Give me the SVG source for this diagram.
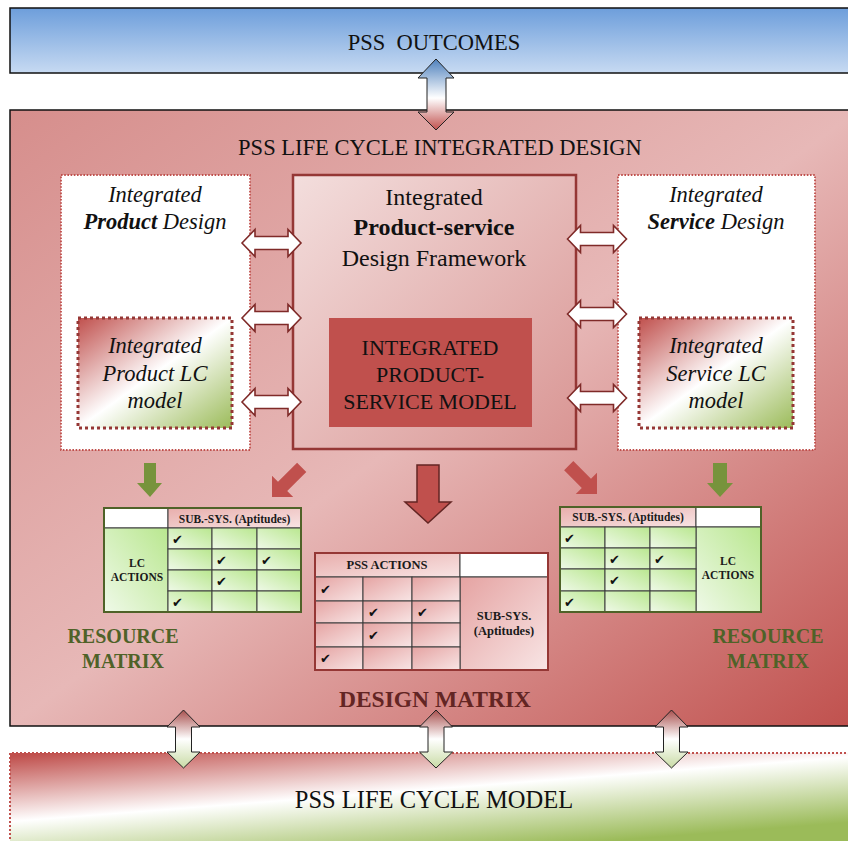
<svg xmlns="http://www.w3.org/2000/svg" xmlns:xlink="http://www.w3.org/1999/xlink" width="848" height="841" viewBox="0 0 848 841">
<defs>
  <linearGradient id="gBlue" x1="0" y1="0" x2="0" y2="1">
    <stop offset="0" stop-color="#6d9edb"/>
    <stop offset="1" stop-color="#c7daf2"/>
  </linearGradient>
  <linearGradient id="gMain" x1="0" y1="0" x2="1" y2="1">
    <stop offset="0" stop-color="#d68e8c"/>
    <stop offset="0.5" stop-color="#e7b8b7"/>
    <stop offset="1" stop-color="#c0504d"/>
  </linearGradient>
  <linearGradient id="gCenter" x1="0" y1="0" x2="1" y2="1">
    <stop offset="0" stop-color="#f3dedd"/>
    <stop offset="1" stop-color="#d99593"/>
  </linearGradient>
  <linearGradient id="gLC" x1="0" y1="0" x2="1" y2="1">
    <stop offset="0" stop-color="#c0504d"/>
    <stop offset="0.5" stop-color="#ffffff"/>
    <stop offset="1" stop-color="#9bbb59"/>
  </linearGradient>
  <linearGradient id="gLife" gradientUnits="userSpaceOnUse" x1="415" y1="725" x2="425" y2="855">
    <stop offset="0" stop-color="#c0504d"/>
    <stop offset="0.5" stop-color="#ffffff"/>
    <stop offset="1" stop-color="#9bbb59"/>
  </linearGradient>
  <linearGradient id="gGreenCell" x1="1" y1="0" x2="0" y2="1">
    <stop offset="0" stop-color="#b9e78f"/>
    <stop offset="1" stop-color="#eff9e8"/>
  </linearGradient>
  <linearGradient id="gPinkHdr" x1="0" y1="0" x2="1" y2="1">
    <stop offset="0" stop-color="#e8aeac"/>
    <stop offset="1" stop-color="#f8e4e4"/>
  </linearGradient>
  <linearGradient id="gPinkCell" x1="0" y1="0" x2="1" y2="1">
    <stop offset="0" stop-color="#e5a3a2"/>
    <stop offset="1" stop-color="#f8e5e5"/>
  </linearGradient>
  <linearGradient id="gTopArrow" x1="0" y1="0" x2="0" y2="1">
    <stop offset="0" stop-color="#4f81bd"/>
    <stop offset="0.55" stop-color="#ffffff"/>
    <stop offset="1" stop-color="#c0504d"/>
  </linearGradient>
  <linearGradient id="gBotArrow" x1="0" y1="0" x2="0" y2="1">
    <stop offset="0" stop-color="#a8504e"/>
    <stop offset="0.5" stop-color="#ffffff"/>
    <stop offset="1" stop-color="#c9dba5"/>
  </linearGradient>
  <path id="dbl" d="M-29.5,0 L-16.5,-13.5 L-16.5,-6.5 L16.5,-6.5 L16.5,-13.5 L29.5,0 L16.5,13.5 L16.5,6.5 L-16.5,6.5 L-16.5,13.5 Z"/>
  <path id="vbot" d="M0,0 L16.5,17 L8,17 L8,42 L16.5,42 L0,58 L-16.5,42 L-8,42 L-8,17 L-16.5,17 Z"/>
</defs>
<style>
  .serif { font-family: "Liberation Serif", "Times New Roman", serif; }
  .hdr { font-family: "Liberation Serif", "Times New Roman", serif; font-weight: bold; font-size: 11.5px; fill: #1a1a1a; text-anchor: middle; }
  .hdr2 { font-family: "Liberation Serif", "Times New Roman", serif; font-weight: bold; font-size: 12.5px; fill: #1a1a1a; text-anchor: middle; }
  .chk { font-family: "DejaVu Sans", sans-serif; font-size: 13px; fill: #111; }
  .gcell { fill: url(#gGreenCell); stroke: #3d3d3d; stroke-width: 1; }
  .pcell { fill: url(#gPinkCell); stroke: #3d3d3d; stroke-width: 1; }
  .dbl { fill: #ffffff; stroke: #7f2a28; stroke-width: 1.6; }
  .dotbox { fill: #ffffff; stroke: #c0504d; stroke-width: 1.8; stroke-dasharray: 1.6 1.6; }
  .lcbox { fill: url(#gLC); stroke: #953735; stroke-width: 3; stroke-dasharray: 3 3; }
  .it { font-family: "Liberation Serif", "Times New Roman", serif; font-style: italic; font-size: 22.5px; fill: #111; text-anchor: middle; }
  .res { font-family: "Liberation Serif", "Times New Roman", serif; font-weight: bold; font-size: 20px; fill: #4f6228; text-anchor: middle; }
</style>

<g id="pss-outcomes">
  <rect x="10" y="8" width="850" height="65" fill="url(#gBlue)" stroke="#111" stroke-width="1.5"/>
  <text class="serif" x="434" y="50" font-size="22.5" text-anchor="middle" fill="#111" xml:space="preserve">PSS  OUTCOMES</text>
</g>

<g id="integrated-design">
  <rect x="10" y="110" width="850" height="616" fill="url(#gMain)" stroke="#111" stroke-width="1.5"/>
  <text class="serif" x="440" y="155" font-size="22.5" text-anchor="middle" fill="#111">PSS LIFE CYCLE INTEGRATED DESIGN</text>
</g>

<g id="lifecycle-model">
  <rect x="10" y="753" width="850" height="100" fill="url(#gLife)"/>
  <path d="M10,851 L10,753 L860,753" fill="none" stroke="#c0504d" stroke-width="2" stroke-dasharray="2 2"/>
  <text class="serif" x="434" y="808" font-size="24.5" text-anchor="middle" fill="#111">PSS LIFE CYCLE MODEL</text>
</g>

<g id="product-design">
  <rect class="dotbox" x="61" y="175" width="189" height="275"/>
  <text class="it" x="155" y="202">Integrated</text>
  <text class="it" x="155" y="229"><tspan font-weight="bold">Product</tspan> Design</text>
</g>
<g id="product-lc-model">
  <rect class="lcbox" x="78" y="318" width="154" height="110"/>
  <text class="it" x="155" y="353">Integrated</text>
  <text class="it" x="155" y="381">Product LC</text>
  <text class="it" x="155" y="408">model</text>
</g>

<g id="service-design">
  <rect class="dotbox" x="618" y="175" width="197" height="275"/>
  <text class="it" x="716" y="202">Integrated</text>
  <text class="it" x="716" y="229"><tspan font-weight="bold">Service</tspan> Design</text>
</g>
<g id="service-lc-model">
  <rect class="lcbox" x="639" y="318" width="154" height="110"/>
  <text class="it" x="716" y="353">Integrated</text>
  <text class="it" x="716" y="381">Service LC</text>
  <text class="it" x="716" y="408">model</text>
</g>

<g id="ps-framework">
  <rect x="293" y="175" width="283" height="274" fill="url(#gCenter)" stroke="#953735" stroke-width="2.5"/>
  <text class="serif" x="434" y="205" font-size="24" text-anchor="middle" fill="#111">Integrated</text>
  <text class="serif" x="434" y="235" font-size="24" font-weight="bold" text-anchor="middle" fill="#111">Product-service</text>
  <text class="serif" x="434" y="266" font-size="24" text-anchor="middle" fill="#111">Design Framework</text>
</g>
<g id="ps-model">
  <rect x="329" y="318" width="203" height="109" fill="#c0504d"/>
  <text class="serif" x="430" y="355" font-size="22" text-anchor="middle" fill="#111">INTEGRATED</text>
  <text class="serif" x="430" y="382" font-size="22" text-anchor="middle" fill="#111">PRODUCT-</text>
  <text class="serif" x="430" y="409" font-size="22" text-anchor="middle" fill="#111">SERVICE MODEL</text>
</g>

<g id="resource-matrix-left">
  <rect x="104" y="508" width="64" height="20" fill="#ffffff" stroke="#3d3d3d" stroke-width="1"/>
  <rect x="168" y="508" width="133" height="20" fill="url(#gPinkHdr)" stroke="#3d3d3d" stroke-width="1"/>
  <rect class="gcell" x="104" y="528" width="64" height="84"/>
  <rect class="gcell" x="168" y="528" width="44" height="21"/>
  <rect class="gcell" x="212" y="528" width="45" height="21"/>
  <rect class="gcell" x="257" y="528" width="44" height="21"/>
  <rect class="gcell" x="168" y="549" width="44" height="21"/>
  <rect class="gcell" x="212" y="549" width="45" height="21"/>
  <rect class="gcell" x="257" y="549" width="44" height="21"/>
  <rect class="gcell" x="168" y="570" width="44" height="21"/>
  <rect class="gcell" x="212" y="570" width="45" height="21"/>
  <rect class="gcell" x="257" y="570" width="44" height="21"/>
  <rect class="gcell" x="168" y="591" width="44" height="21"/>
  <rect class="gcell" x="212" y="591" width="45" height="21"/>
  <rect class="gcell" x="257" y="591" width="44" height="21"/>
  <rect x="104" y="508" width="197" height="104" fill="none" stroke="#4f6228" stroke-width="2"/>
  <text class="hdr" x="234.5" y="523">SUB.-SYS. (Aptitudes)</text>
  <text class="hdr" x="137" y="567">LC</text>
  <text class="hdr" x="137" y="581">ACTIONS</text>
  <text class="chk" x="172" y="544">✔</text>
  <text class="chk" x="216" y="565">✔</text>
  <text class="chk" x="261" y="565">✔</text>
  <text class="chk" x="216" y="586">✔</text>
  <text class="chk" x="172" y="607">✔</text>
  <text class="res" x="123" y="643">RESOURCE</text>
  <text class="res" x="123" y="668">MATRIX</text>
</g>

<g id="resource-matrix-right">
  <rect x="560" y="507" width="136" height="20" fill="url(#gPinkHdr)" stroke="#3d3d3d" stroke-width="1"/>
  <rect x="696" y="507" width="65" height="20" fill="#ffffff" stroke="#3d3d3d" stroke-width="1"/>
  <rect class="gcell" x="696" y="527" width="65" height="85"/>
  <rect class="gcell" x="560" y="527" width="45" height="21"/>
  <rect class="gcell" x="605" y="527" width="45" height="21"/>
  <rect class="gcell" x="650" y="527" width="46" height="21"/>
  <rect class="gcell" x="560" y="548" width="45" height="21"/>
  <rect class="gcell" x="605" y="548" width="45" height="21"/>
  <rect class="gcell" x="650" y="548" width="46" height="21"/>
  <rect class="gcell" x="560" y="569" width="45" height="22"/>
  <rect class="gcell" x="605" y="569" width="45" height="22"/>
  <rect class="gcell" x="650" y="569" width="46" height="22"/>
  <rect class="gcell" x="560" y="591" width="45" height="21"/>
  <rect class="gcell" x="605" y="591" width="45" height="21"/>
  <rect class="gcell" x="650" y="591" width="46" height="21"/>
  <rect x="560" y="507" width="201" height="105" fill="none" stroke="#4f6228" stroke-width="2"/>
  <text class="hdr" x="628" y="521">SUB.-SYS. (Aptitudes)</text>
  <text class="hdr" x="728" y="565">LC</text>
  <text class="hdr" x="728" y="579">ACTIONS</text>
  <text class="chk" x="564" y="543">✔</text>
  <text class="chk" x="609" y="564">✔</text>
  <text class="chk" x="654" y="564">✔</text>
  <text class="chk" x="609" y="585">✔</text>
  <text class="chk" x="564" y="607">✔</text>
  <text class="res" x="768" y="643">RESOURCE</text>
  <text class="res" x="768" y="668">MATRIX</text>
</g>

<g id="design-matrix">
  <rect x="315" y="553" width="145" height="24" fill="url(#gPinkHdr)" stroke="#3d3d3d" stroke-width="1"/>
  <rect x="460" y="553" width="88" height="24" fill="#ffffff" stroke="#3d3d3d" stroke-width="1"/>
  <rect class="pcell" x="460" y="577" width="88" height="93"/>
  <rect class="pcell" x="315" y="577" width="48" height="24"/>
  <rect class="pcell" x="363" y="577" width="49" height="24"/>
  <rect class="pcell" x="412" y="577" width="48" height="24"/>
  <rect class="pcell" x="315" y="601" width="48" height="22"/>
  <rect class="pcell" x="363" y="601" width="49" height="22"/>
  <rect class="pcell" x="412" y="601" width="48" height="22"/>
  <rect class="pcell" x="315" y="623" width="48" height="24"/>
  <rect class="pcell" x="363" y="623" width="49" height="24"/>
  <rect class="pcell" x="412" y="623" width="48" height="24"/>
  <rect class="pcell" x="315" y="647" width="48" height="23"/>
  <rect class="pcell" x="363" y="647" width="49" height="23"/>
  <rect class="pcell" x="412" y="647" width="48" height="23"/>
  <rect x="315" y="553" width="233" height="117" fill="none" stroke="#953735" stroke-width="2"/>
  <text class="hdr2" x="387" y="569">PSS ACTIONS</text>
  <text class="hdr2" x="504" y="620">SUB-SYS.</text>
  <text class="hdr2" x="504" y="635">(Aptitudes)</text>
  <text class="chk" x="320" y="594">✔</text>
  <text class="chk" x="368" y="617">✔</text>
  <text class="chk" x="417" y="617">✔</text>
  <text class="chk" x="368" y="640">✔</text>
  <text class="chk" x="320" y="663">✔</text>
  <text class="serif" x="435" y="707" font-size="23.5" font-weight="bold" text-anchor="middle" fill="#632523">DESIGN MATRIX</text>
</g>

<g id="connectors">
  <path d="M436,59 L454,78 L446,78 L446,112 L454,112 L436,130 L418,112 L427,112 L427,78 L418,78 Z" fill="url(#gTopArrow)" stroke="#222" stroke-width="1"/>
  <use href="#dbl" class="dbl" x="271.5" y="243"/>
  <use href="#dbl" class="dbl" x="271.5" y="318"/>
  <use href="#dbl" class="dbl" x="271.5" y="402"/>
  <use href="#dbl" class="dbl" x="597" y="239"/>
  <use href="#dbl" class="dbl" x="597" y="314"/>
  <use href="#dbl" class="dbl" x="597" y="398"/>
  <path d="M144,463 L156,463 L156,483 L162,483 L150,497 L137,483 L144,483 Z" fill="#77933c"/>
  <path d="M713,463 L727,463 L727,483 L733,483 L720,497 L707,483 L713,483 Z" fill="#77933c"/>
  <path transform="translate(272,497) rotate(45)" d="M0,0 L-15,-15 L-6.5,-15 L-6.5,-42 L6.5,-42 L6.5,-15 L15,-15 Z" fill="#c0504d"/>
  <path transform="translate(597,494) rotate(-45)" d="M0,0 L-15,-15 L-6.5,-15 L-6.5,-40 L6.5,-40 L6.5,-15 L15,-15 Z" fill="#c0504d"/>
  <path d="M417,465 L439,465 L439,502 L451,502 L428,523 L405,502 L417,502 Z" fill="#c0504d" stroke="#632523" stroke-width="1.5"/>
  <use href="#vbot" x="183.5" y="710" fill="url(#gBotArrow)" stroke="#222" stroke-width="1"/>
  <use href="#vbot" x="436" y="710" fill="url(#gBotArrow)" stroke="#222" stroke-width="1"/>
  <use href="#vbot" x="671.5" y="710" fill="url(#gBotArrow)" stroke="#222" stroke-width="1"/>
</g>
</svg>
